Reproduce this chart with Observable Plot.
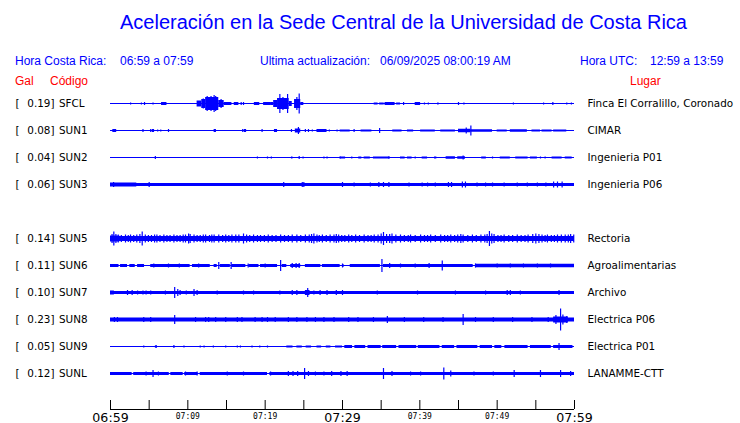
<!DOCTYPE html>
<html><head><meta charset="utf-8">
<script src="https://cdn.jsdelivr.net/npm/d3@7"></script>
<script src="https://cdn.jsdelivr.net/npm/@observablehq/plot@0.6"></script>
<style>
html,body{margin:0;padding:0;background:#fff;}
body{width:740px;height:423px;position:relative;overflow:hidden;}
.h{position:absolute;white-space:pre;font-family:"Liberation Sans",Arial,sans-serif;line-height:1;}
#chart{position:absolute;left:0;top:88px;}
</style></head><body>
<div id="hdr"></div>
<div id="chart"></div>
<script>
// ---------- texts ----------
const title = "Aceleración en la Sede Central de la Universidad de Costa Rica";
const infoLabels = ["Hora Costa Rica:", "06:59 a 07:59", "Ultima actualización:", "06/09/2025 08:00:19 AM", "Hora UTC:", "12:59 a 13:59"];
const headLabels = ["Gal", "Código", "Lugar"];

// ---------- stations ----------
const codes  = ["SFCL","SUN1","SUN2","SUN3","SUN4","SUN5","SUN6","SUN7","SUN8","SUN9","SUNL"];
const gal    = [0.19, 0.08, 0.04, 0.06, null, 0.14, 0.11, 0.10, 0.23, 0.05, 0.12];
const places = ["Finca El Corralillo, Coronado","CIMAR","Ingenieria P01","Ingenieria P06","","Rectoria","Agroalimentarias","Archivo","Electrica P06","Electrica P01","LANAMME-CTT"];
// baseline half-amplitude of each trace (Gal)
const baseAmp = [0.01, 0.01, 0.01, 0.03, null, 0.05, 0.01, 0.03, 0.04, 0.01, 0.01];

// time axis (minutes after 06:59)
const tickMinutes = [0,5,10,15,20,25,30,35,40,45,50,55,60];
const majorTicks = [[0,"06:59"],[30,"07:29"],[60,"07:59"]];
const minorTicks = [[10,"07:09"],[20,"07:19"],[40,"07:39"],[50,"07:49"]];

// envelope blocks [startMin, endMin, halfAmpGal] and spikes [min, halfAmpGal], read from the record
const blocksSFCL = [[6.6,7.3,0.03],[11.2,11.8,0.06],[11.8,12.3,0.09],[12.3,14.0,0.13],[14.0,14.7,0.07],[14.7,15.7,0.03],[16.0,16.6,0.03],[18.6,19.3,0.03],[19.8,20.7,0.03],[20.7,21.1,0.03],[21.1,21.6,0.07],[21.6,23.1,0.11],[23.1,23.5,0.05],[23.8,24.6,0.09],[24.6,25.0,0.03],[34.1,34.6,0.02],[34.8,35.4,0.02],[35.5,36.8,0.03],[37.0,37.5,0.02],[39.4,40.1,0.03],[42.3,42.5,0.02]];
const spikesSFCL = [[2.6,0.02],[4.0,0.02],[4.4,0.03],[5.5,0.02],[12.0,0.1],[12.5,0.15],[13.0,0.15],[13.4,0.17],[13.6,0.15],[14.3,0.09],[16.9,0.03],[17.2,0.03],[20.1,0.03],[21.9,0.19],[22.3,0.13],[22.9,0.19],[24.1,0.13],[24.4,0.2],[36.1,0.03],[37.9,0.03],[40.6,0.02],[41.1,0.02],[45.0,0.03],[45.7,0.02],[52.1,0.02],[56.0,0.02],[57.2,0.03],[59.0,0.02],[59.6,0.02]];

const blocksSUN1 = [[0.3,0.8,0.03],[5.4,5.7,0.03],[13.4,13.7,0.03],[17.3,17.6,0.03],[21.2,21.6,0.03],[23.9,24.6,0.04],[26.7,28.0,0.03],[29.7,31.0,0.02],[32.4,33.8,0.02],[36.5,37.7,0.02],[38.4,39.2,0.02],[40.1,42.0,0.02],[42.7,44.6,0.02],[45.0,46.6,0.035],[46.6,49.4,0.025],[50.0,51.3,0.02],[51.7,53.9,0.025],[54.5,55.6,0.02],[55.8,57.1,0.02],[57.3,59.0,0.02]];
const spikesSUN1 = [[4.2,0.03],[5.2,0.03],[6.1,0.02],[6.5,0.02],[7.5,0.03],[17.1,0.03],[19.6,0.03],[23.4,0.03],[24.3,0.07],[25.2,0.03],[25.6,0.03],[26.1,0.02],[28.3,0.02],[29.3,0.02],[31.5,0.03],[34.8,0.05],[46.0,0.06],[46.6,0.1]];

const blocksSUN2 = [[23.4,23.6,0.02],[29.7,30.4,0.02],[32.1,32.5,0.02],[32.8,33.6,0.02],[34.0,36.0,0.02],[37.5,38.1,0.02],[38.4,39.0,0.02],[40.3,41.0,0.02],[41.9,42.2,0.02],[43.4,44.6,0.025],[44.9,45.9,0.025],[48.0,48.6,0.02],[50.4,51.7,0.02],[52.4,54.0,0.02],[54.3,55.2,0.02],[57.1,58.4,0.02],[58.8,59.7,0.02]];
const spikesSUN2 = [[5.8,0.03],[19.0,0.02],[20.3,0.02],[20.8,0.02],[24.4,0.03],[24.9,0.02],[27.6,0.02],[28.0,0.02],[29.7,0.02],[31.2,0.02],[36.0,0.03],[39.4,0.02],[45.6,0.04],[49.4,0.02],[55.6,0.02],[56.2,0.02]];

const blocksSUN3 = [[0,3.4,0.04]];
const spikesSUN3 = [[0.4,0.05],[5.0,0.05],[22.4,0.05],[24.8,0.05],[25.0,0.05],[30.0,0.05],[31.5,0.04],[33.6,0.04],[34.7,0.05],[35.3,0.05],[36.0,0.05],[38.6,0.04],[40.3,0.04],[41.0,0.04],[42.0,0.04],[43.7,0.05],[44.1,0.05],[45.5,0.06],[45.9,0.06],[47.4,0.04],[48.5,0.04],[49.4,0.04],[50.9,0.04],[52.6,0.04],[53.9,0.04],[55.2,0.04],[56.3,0.04],[57.3,0.06],[57.8,0.06],[58.4,0.06]];

const blocksSUN5 = [[0,1.2,0.06]];
const spikesSUN5 = [[0.2,0.09],[0.43,0.14],[0.7,0.09],[1.0,0.08],[1.4,0.07],[1.94,0.08],[2.3,0.07],[2.59,0.08],[3.0,0.07],[3.4,0.08],[3.8,0.09],[4.1,0.14],[4.5,0.08],[4.9,0.07],[5.3,0.07],[5.7,0.08],[6.0,0.08],[6.4,0.07],[6.9,0.08],[7.3,0.07],[7.7,0.07],[8.2,0.08],[8.6,0.07],[9.0,0.07],[9.4,0.08],[9.7,0.08],[10.1,0.1],[10.3,0.09],[10.8,0.08],[11.2,0.07],[11.6,0.07],[12.0,0.08],[12.3,0.08],[12.8,0.07],[13.1,0.08],[13.4,0.08],[14.0,0.08],[14.5,0.07],[14.9,0.08],[15.3,0.07],[15.7,0.08],[16.2,0.08],[16.6,0.08],[17.2,0.1],[17.6,0.08],[18.0,0.07],[18.5,0.08],[19.0,0.07],[19.4,0.07],[19.9,0.07],[20.4,0.08],[20.9,0.07],[21.4,0.07],[22.0,0.08],[22.5,0.07],[23.0,0.07],[23.5,0.08],[24.1,0.08],[24.6,0.07],[25.2,0.08],[25.7,0.08],[26.0,0.09],[26.3,0.1],[26.7,0.08],[27.0,0.07],[27.4,0.08],[27.9,0.07],[28.4,0.08],[28.9,0.08],[29.2,0.09],[29.5,0.08],[29.9,0.07],[30.3,0.07],[30.8,0.08],[31.2,0.07],[31.7,0.08],[32.2,0.07],[32.8,0.08],[33.3,0.07],[33.7,0.07],[34.1,0.08],[34.6,0.08],[35.0,0.1],[35.3,0.13],[35.7,0.09],[36.1,0.09],[36.4,0.1],[36.9,0.08],[37.5,0.08],[38.0,0.07],[38.5,0.07],[38.8,0.08],[39.4,0.07],[40.1,0.08],[40.6,0.07],[41.0,0.07],[41.4,0.08],[42.0,0.07],[42.7,0.08],[43.2,0.07],[43.6,0.07],[44.0,0.08],[44.5,0.07],[44.9,0.08],[45.3,0.09],[45.6,0.08],[46.2,0.07],[46.8,0.08],[47.3,0.07],[47.9,0.08],[48.4,0.08],[48.7,0.09],[49.0,0.15],[49.3,0.1],[49.6,0.09],[50.1,0.07],[50.5,0.07],[50.9,0.08],[51.5,0.07],[52.0,0.07],[52.6,0.08],[53.1,0.07],[53.6,0.07],[54.0,0.08],[54.6,0.09],[55.0,0.1],[55.4,0.09],[55.8,0.08],[56.2,0.07],[56.5,0.08],[57.0,0.07],[57.4,0.07],[57.8,0.08],[58.3,0.08],[58.8,0.08],[59.2,0.08],[59.5,0.09],[59.9,0.08]];

const blocksSUN6 = [[0,1.1,0.03],[1.3,2.2,0.03],[2.5,3.2,0.03],[3.5,4.4,0.03],[5.2,10.3,0.03],[10.6,12.9,0.03],[13.4,13.8,0.03],[14.2,15.5,0.03],[15.7,17.5,0.03],[17.9,19.2,0.03],[19.4,21.6,0.03],[22.2,22.8,0.03],[23.3,24.6,0.03],[25.2,27.2,0.03],[27.4,29.7,0.03],[30.0,30.2,0.03],[31.0,34.9,0.03],[35.3,46.9,0.03],[47.2,60,0.035]];
const spikesSUN6 = [[5.6,0.04],[7.5,0.04],[8.9,0.04],[11.4,0.04],[14.0,0.07],[15.6,0.07],[17.8,0.04],[20.0,0.04],[22.0,0.11],[23.5,0.05],[24.0,0.05],[24.4,0.05],[30.0,0.04],[35.1,0.13],[36.1,0.05],[37.5,0.04],[39.4,0.04],[41.2,0.05],[42.9,0.1],[47.2,0.04],[50.0,0.04],[51.7,0.04],[53.4,0.04],[55.2,0.04],[56.9,0.04]];

const blocksSUN7 = [[0,0.5,0.04],[25.2,25.8,0.05]];
const spikesSUN7 = [[2.2,0.05],[2.8,0.05],[3.5,0.04],[4.2,0.04],[4.6,0.04],[5.2,0.04],[7.1,0.04],[8.3,0.11],[8.7,0.07],[9.0,0.05],[9.8,0.04],[10.8,0.07],[11.2,0.05],[13.8,0.04],[17.2,0.04],[18.5,0.04],[21.9,0.04],[23.5,0.05],[24.1,0.05],[25.5,0.09],[26.3,0.04],[27.1,0.05],[28.0,0.05],[29.2,0.05],[30.0,0.05],[34.5,0.04],[39.7,0.04],[44.6,0.04],[48.5,0.04],[51.3,0.05],[51.7,0.05],[53.0,0.04],[58.0,0.05]];

const blocksSUN8 = [[57.3,59.2,0.06]];
const spikesSUN8 = [[0.5,0.05],[0.9,0.05],[4.3,0.05],[5.2,0.05],[8.3,0.09],[11.0,0.05],[12.3,0.05],[12.7,0.05],[13.6,0.05],[14.9,0.05],[16.4,0.05],[17.0,0.05],[18.7,0.05],[19.6,0.05],[20.3,0.05],[21.3,0.05],[23.0,0.05],[24.1,0.05],[25.4,0.05],[26.5,0.05],[27.6,0.05],[28.9,0.05],[30.8,0.05],[32.0,0.05],[34.0,0.05],[35.8,0.07],[38.0,0.05],[40.5,0.05],[43.0,0.05],[45.6,0.11],[47.2,0.05],[49.5,0.05],[52.0,0.05],[54.5,0.05],[56.6,0.05],[57.6,0.09],[58.2,0.22],[58.5,0.1],[59.0,0.07]];

const blocksSUN9 = [[5.8,6.0,0.02],[22.8,23.6,0.02],[24.1,24.8,0.02],[25.3,26.0,0.02],[26.7,27.3,0.02],[27.9,28.5,0.02],[29.1,30.0,0.02],[30.3,31.3,0.03],[31.6,33.0,0.03],[33.3,35.0,0.03],[35.2,37.0,0.03],[37.3,39.6,0.03],[39.8,42.6,0.03],[42.9,44.5,0.03],[44.8,47.5,0.03],[47.8,49.4,0.03],[49.7,50.6,0.03],[51.0,54.0,0.03],[54.3,57.0,0.03],[57.3,59.8,0.03]];
const spikesSUN9 = [[4.3,0.02],[5.9,0.03],[8.2,0.03],[9.5,0.02],[11.6,0.02],[12.1,0.02],[13.3,0.02],[14.9,0.02],[16.4,0.02],[16.8,0.02],[18.3,0.02],[19.3,0.02],[20.3,0.02],[58.0,0.07]];

const blocksSUNL = [[0,2.8,0.03],[3.0,7.6,0.03],[7.8,9.4,0.03],[9.6,11.3,0.03],[11.6,20.3,0.03],[20.6,60,0.03]];
const spikesSUNL = [[4.6,0.04],[5.5,0.07],[6.2,0.04],[9.7,0.04],[11.2,0.04],[15.1,0.04],[17.2,0.04],[20.7,0.04],[23.0,0.05],[23.6,0.05],[24.2,0.05],[25.1,0.11],[25.6,0.05],[26.5,0.04],[27.6,0.04],[28.6,0.05],[29.8,0.05],[30.6,0.05],[35.3,0.11],[36.4,0.05],[38.8,0.04],[40.1,0.04],[43.1,0.12],[44.0,0.06],[47.0,0.04],[49.5,0.04],[52.2,0.07],[55.6,0.07],[58.2,0.07],[59.5,0.05]];

// ---------- layout / style constants ----------
const BLUE = "#0000ff", RED = "#ff0000";
const ROW = 0.54;          // Gal between neighbouring traces
const Y_TOP = 0.31, Y_AXIS = -6.11, TICK = 0.18;
const SPAN = [0, 60];

// ---------- header (HTML) ----------
const hdr = document.getElementById("hdr");
function addText(txt, left, top, size, color) {
  const s = document.createElement("span");
  s.className = "h"; s.textContent = txt;
  s.style.left = left + "px"; s.style.top = top + "px";
  s.style.fontSize = size + "px"; s.style.color = color;
  hdr.appendChild(s);
}
addText(title, 120, 12, 20, BLUE);
[15, 120, 260, 380, 580, 650].forEach((x, i) => addText(infoLabels[i], x, 55, 12, BLUE));
[15, 50, 630].forEach((x, i) => addText(headLabels[i], x, 75, 12, RED));

// ---------- build tables ----------
const blockSets = {SFCL: blocksSFCL, SUN1: blocksSUN1, SUN2: blocksSUN2, SUN3: blocksSUN3, SUN5: blocksSUN5, SUN6: blocksSUN6, SUN7: blocksSUN7, SUN8: blocksSUN8, SUN9: blocksSUN9, SUNL: blocksSUNL};
const spikeSets = {SFCL: spikesSFCL, SUN1: spikesSUN1, SUN2: spikesSUN2, SUN3: spikesSUN3, SUN5: spikesSUN5, SUN6: spikesSUN6, SUN7: spikesSUN7, SUN8: spikesSUN8, SUN9: spikesSUN9, SUNL: spikesSUNL};

const stations = codes.map((code, i) => ({code, i, c: -i * ROW, gal: gal[i], place: places[i], base: baseAmp[i]}))
  .filter(d => d.gal != null);
const baseRows = stations.map(d => ({c: d.c, m0: SPAN[0], m1: SPAN[1], a: d.base}));
const blockRows = stations.flatMap(d => blockSets[d.code].map(([m0, m1, a]) => ({c: d.c, m0, m1, a})));
const spikeRows = stations.flatMap(d => spikeSets[d.code].map(([m, a]) => ({c: d.c, m, a})));

const lab = {fontFamily: "DejaVu Sans", fontSize: 10.4, fill: "black", frameAnchor: "left"};

const chart = Plot.plot({
  width: 740, height: 335,
  marginLeft: 110, marginRight: 166, marginTop: 0, marginBottom: 14,
  x: {domain: SPAN, axis: null},
  y: {domain: [Y_AXIS, Y_TOP], axis: null},
  style: {background: "white", overflow: "visible"},
  marks: [
    Plot.rect(baseRows, {x1: "m0", x2: "m1", y1: d => d.c - d.a, y2: d => d.c + d.a, fill: BLUE}),
    Plot.rect(blockRows, {x1: "m0", x2: "m1", y1: d => d.c - d.a, y2: d => d.c + d.a, fill: BLUE}),
    Plot.ruleX(spikeRows, {x: "m", y1: d => d.c - d.a, y2: d => d.c + d.a, stroke: BLUE, strokeWidth: 1.2}),
    // station labels
    Plot.text(stations, {...lab, y: "c", text: () => "[", dx: -95, textAnchor: "start"}),
    Plot.text(stations, {...lab, y: "c", text: d => d.gal.toFixed(2) + "]", dx: -56, textAnchor: "end"}),
    Plot.text(stations, {...lab, y: "c", text: "code", dx: -51.5, textAnchor: "start"}),
    Plot.text(stations, {...lab, frameAnchor: "right", y: "c", text: "place", dx: 13, textAnchor: "start"}),
    // time axis
    Plot.ruleY([Y_AXIS], {stroke: "black"}),
    Plot.ruleX(tickMinutes, {x: d => d, y1: () => Y_AXIS, y2: () => Y_AXIS + TICK, stroke: "black"}),
    Plot.text(majorTicks, {x: d => d[0], y: () => Y_AXIS, text: d => d[1], lineAnchor: "bottom", dy: 12, fontFamily: "DejaVu Sans", fontSize: 12.6, fill: "black", textAnchor: "middle"}),
    Plot.text(minorTicks, {x: d => d[0], y: () => Y_AXIS, text: d => d[1], lineAnchor: "bottom", dy: 9, fontFamily: "DejaVu Sans Mono", fontSize: 8, fill: "black", textAnchor: "middle"})
  ]
});
document.getElementById("chart").appendChild(chart);
</script>
</body></html>
